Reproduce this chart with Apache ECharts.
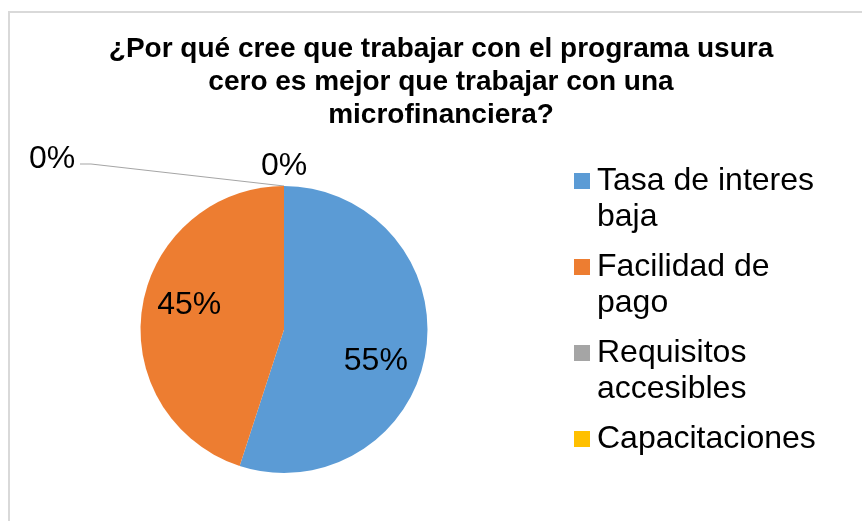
<!DOCTYPE html>
<html>
<head>
<meta charset="utf-8">
<script src="https://cdn.jsdelivr.net/npm/echarts@6/dist/echarts.min.js"></script>
<style>
  html, body { margin: 0; padding: 0; background: #fff; }
  #chart { width: 862px; height: 521px; }
</style>
</head>
<body>
<div id="chart"></div>
<script>
// datos
var categorias = ["Tasa de interes baja", "Facilidad de pago", "Requisitos accesibles", "Capacitaciones"];
var etiquetasLeyenda = ["Tasa de interes\nbaja", "Facilidad de\npago", "Requisitos\naccesibles", "Capacitaciones\n "];
var porcentajes = [55, 45, 0, 0];
var colores = ["#5b9bd5", "#ed7d31", "#a5a5a5", "#ffc000"];

document.addEventListener("DOMContentLoaded", function () {
    var chartDom = document.getElementById("chart");
    var myChart = echarts.init(chartDom, null, { renderer: "canvas" });

    var CX = 284, CY = 329.5, R = 143.5;
    var fuente = "'Liberation Sans', Arial, sans-serif";

    // cuadrito de la leyenda alineado con la primera linea del texto
    var iconoLeyenda = "path://M0,0M0,10H16V26H0ZM16,72";

    var datos = categorias.map(function (nombre, i) {
        var item = {
            name: nombre,
            value: porcentajes[i],
            itemStyle: { color: colores[i] }
        };
        if (porcentajes[i] === 0) {
            item.label = { position: "outside" };
            item.labelLine = { show: i === 2, lineStyle: { color: "#a5a5a5", width: 1 } };
        }
        return item;
    });

    var option = {
        backgroundColor: "#ffffff",
        animation: false,
        title: {
            text: "¿Por qué cree que trabajar con el programa usura\ncero es mejor que trabajar con una\nmicrofinanciera?",
            left: 441,
            top: 33,
            padding: 0,
            textAlign: "center",
            textStyle: {
                fontFamily: fuente,
                fontSize: 28,
                fontWeight: "bold",
                lineHeight: 33,
                color: "#000000"
            }
        },
        legend: {
            orient: "vertical",
            left: 574,
            top: 163,
            padding: 0,
            itemGap: 14,
            itemWidth: 16,
            itemHeight: 72,
            icon: iconoLeyenda,
            itemStyle: { borderWidth: 0 },
            data: categorias,
            formatter: function (name) {
                return etiquetasLeyenda[categorias.indexOf(name)];
            },
            textStyle: {
                fontFamily: fuente,
                fontSize: 32,
                lineHeight: 36,
                padding: [0, 0, 0, 2],
                color: "#000000"
            }
        },
        graphic: [
            {
                type: "rect",
                silent: true,
                shape: { x: 9, y: 12, width: 900, height: 600 },
                style: { fill: "none", stroke: "#d9d9d9", lineWidth: 2 }
            }
        ],
        series: [
            {
                type: "pie",
                center: [CX, CY],
                radius: R,
                startAngle: 90,
                clockwise: true,
                avoidLabelOverlap: false,
                itemStyle: { borderWidth: 0 },
                emphasis: { disabled: true },
                label: {
                    show: true,
                    position: "inside",
                    fontFamily: fuente,
                    fontSize: 32,
                    color: "#000000",
                    formatter: function (params) {
                        return params.value + "%";
                    }
                },
                labelLayout: function (params) {
                    var i = params.dataIndex;
                    if (i === 0) return { dx: 18, dy: 20 };
                    if (i === 1) return { dx: -21, dy: -13 };
                    if (i === 2) {
                        return {
                            x: 52, y: 159,
                            align: "center", verticalAlign: "middle",
                            labelLinePoints: [[CX, CY - R], [91, 164], [80, 164]]
                        };
                    }
                    return { x: CX, y: 166, align: "center", verticalAlign: "middle" };
                },
                data: datos
            }
        ]
    };

    myChart.setOption(option);
});
</script>
</body>
</html>
